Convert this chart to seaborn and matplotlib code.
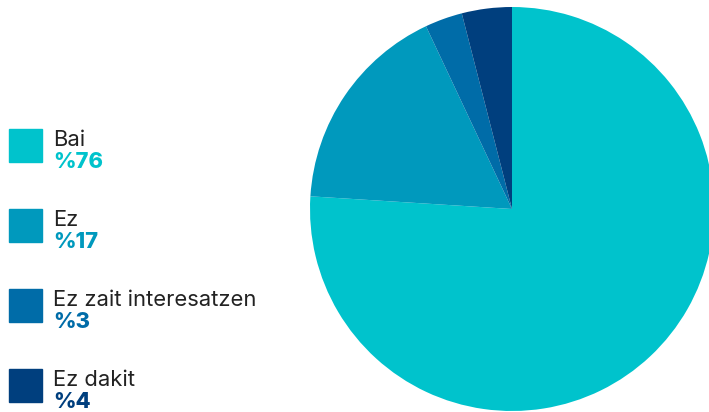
import matplotlib
matplotlib.use("Agg")
import matplotlib.pyplot as plt
import seaborn as sns
from matplotlib.patches import Rectangle

# Data
labels = ["Bai", "Ez", "Ez zait interesatzen", "Ez dakit"]
values = [76, 17, 3, 4]
colors = ["#00C3CC", "#0099BD", "#006CA8", "#003F7E"]

sns.set_theme(style="white")
plt.rcParams["font.family"] = ["Inter", "DejaVu Sans"]

W, H = 709, 412
fig = plt.figure(figsize=(W / 100, H / 100), dpi=100)

# Pie axes: centre (512, 209), radius 202 px
cx, cy, r = 512, 209, 202
ax = fig.add_axes([(cx - r) / W, (H - cy - r) / H, 2 * r / W, 2 * r / H])
ax.pie(values, colors=colors, startangle=90, counterclock=False,
       wedgeprops=dict(linewidth=0))
ax.set_xlim(-1, 1)
ax.set_ylim(-1, 1)
ax.set_aspect("equal")
ax.axis("off")

# Legend on the left
for i, (lab, val, col) in enumerate(zip(labels, values, colors)):
    top = 129 + 80 * i
    fig.patches.append(Rectangle((9 / W, 1 - (top + 33) / H), 33 / W, 33 / H,
                                 transform=fig.transFigure, color=col))
    fig.text(53 / W, 1 - (top + 17.5) / H, lab, fontsize=15.8, color="#222222",
             va="baseline", ha="left")
    fig.text(53 / W, 1 - (top + 39.5) / H, f"%{val}", fontsize=15.8, color=col,
             fontweight="heavy", va="baseline", ha="left")

fig.savefig("out.png", dpi=100)
